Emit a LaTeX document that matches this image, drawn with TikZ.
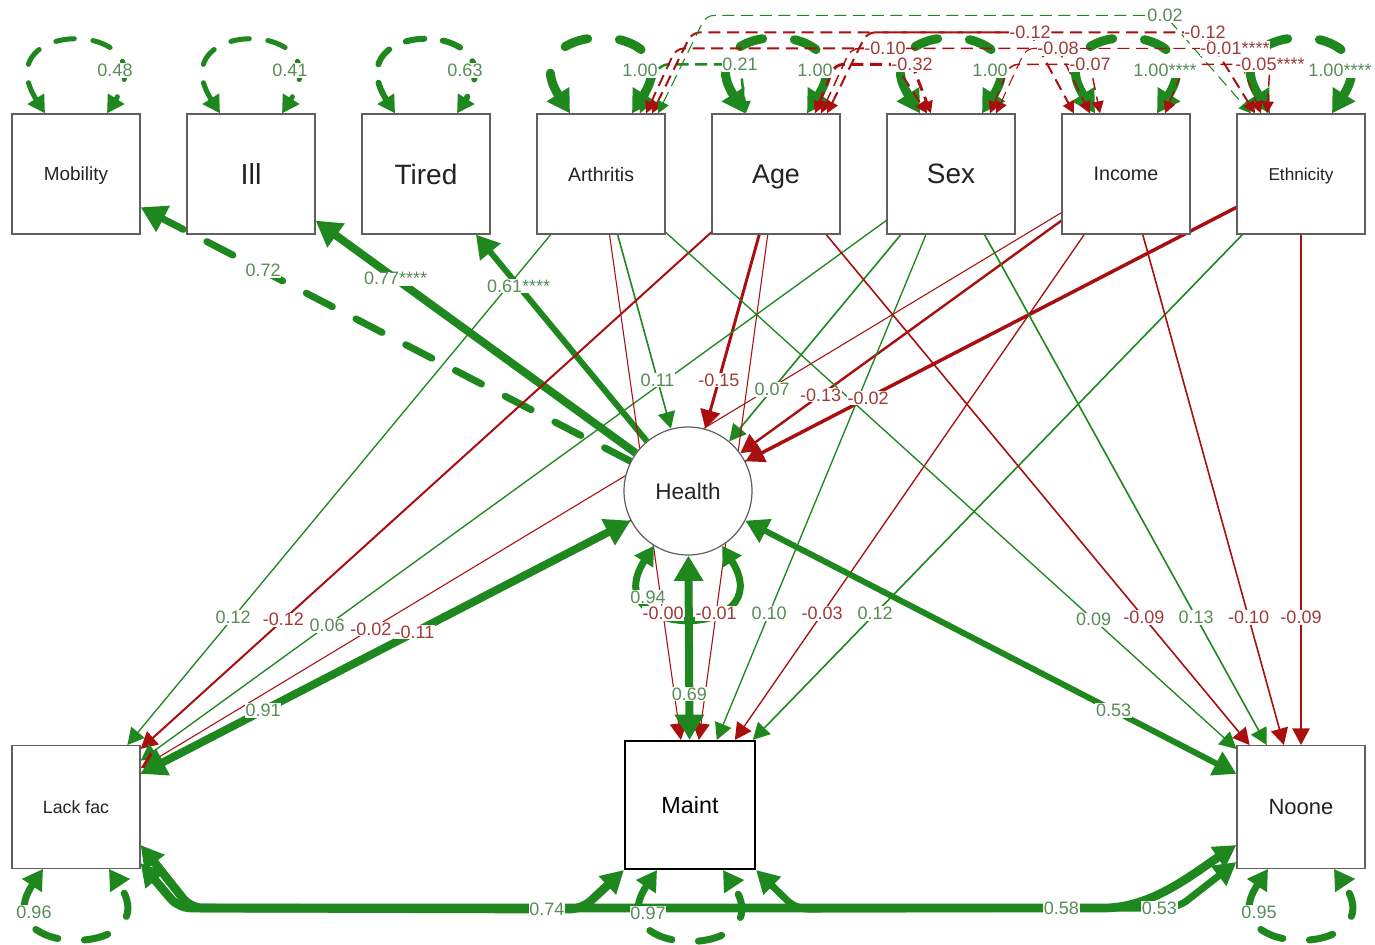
\documentclass[tikz,border=0pt]{standalone}
\usepackage{fontspec}
\setmainfont{Liberation Sans}
\usetikzlibrary{arrows.meta,calc}

\pgfdeclarelayer{edges}
\pgfsetlayers{edges,main}

\definecolor{egreen}{RGB}{30,135,30}
\definecolor{ered}{RGB}{170,15,15}
\definecolor{lgreen}{RGB}{88,140,88}
\definecolor{lred}{RGB}{160,58,58}
\definecolor{boxgray}{RGB}{95,95,95}
\definecolor{txtgray}{RGB}{35,35,35}

\newcommand\setfs[1]{\fontsize{#1}{#1}\selectfont}

% straight path drawn underneath the nodes, its coefficient label on top
\newcommand\semedge[6]{%
  \begin{pgfonlayer}{edges}\draw[#1] (#2) -- (#3);\end{pgfonlayer}%
  \path (#2) -- (#3) node[#4, pos=0.75] (#5) {#6};%
}

\tikzset{
  box/.style={draw=boxgray, line width=0.9pt, fill=white, minimum width=96pt,
    minimum height=90pt, inner sep=0pt, text=txtgray, text depth=0pt},
  bbox/.style={box, minimum height=92pt},
  lat/.style={circle, draw=boxgray, line width=0.9pt, fill=white,
    minimum size=96pt, inner sep=0pt, text=txtgray, text depth=0pt},
  lab/.style={fill=white, inner sep=0.6pt, font=\setfs{13.5pt}},
  gl/.style={lab, text=lgreen},
  rl/.style={lab, text=lred},
  pe/.style={draw=egreen},
  ne/.style={draw=ered},
  e1/.style={line width=1pt, >={Triangle[length=12.5pt,width=13pt]}, ->},
  e2/.style={line width=2.2pt, >={Triangle[length=14pt,width=15pt]}, ->},
  e3/.style={line width=4.5pt, >={Triangle[length=17pt,width=19pt]}, ->},
  e4/.style={line width=6pt, >={Triangle[length=19pt,width=21pt]}, ->},
  two3/.style={e3, <->},
  two4/.style={e4, <->},
  fixeddash/.style={line width=5.25pt, dash pattern=on 22pt off 20pt, line cap=round},
  lpA/.style={draw=egreen, line width=3.75pt, dash pattern=on 14pt off 14pt,
    line cap=round, >={Triangle[length=13pt,width=14pt]}, <->},
  lpB/.style={draw=egreen, line width=6.75pt, dash pattern=on 18pt off 24pt,
    line cap=round, >={Triangle[length=17pt,width=19pt]}, <->},
  lpC/.style={draw=egreen, line width=5.25pt, dash pattern=on 18pt off 20pt,
    line cap=round, >={Triangle[length=15pt,width=17pt]}, <->},
  lpD/.style={draw=egreen, line width=5.25pt, line cap=round,
    >={Triangle[length=14pt,width=16pt]}, <->},
  cv/.style={line width=#1, dash pattern=on 9pt off 5pt,
    >={Triangle[length=9pt,width=9pt]}, <->, rounded corners=6pt},
  bc/.style={draw=egreen, line width=#1, >={Triangle[length=17pt,width=18pt]},
    <->, rounded corners=9pt},
}

\begin{document}
\begin{tikzpicture}[x=0.75pt,y=-0.75pt]
\useasboundingbox (0,0) rectangle (1375,945);
\begin{pgfonlayer}{edges}
  \fill[white] (0,0) rectangle (1375,945);
\end{pgfonlayer}

% ---------------- variables ----------------
\node[box, font=\setfs{14.2pt}] (Mob)   at (76,174)   {Mobility};
\node[box, font=\setfs{21.7pt}] (Ill)   at (251,174)  {Ill};
\node[box, font=\setfs{21pt}]   (Tired) at (426,174)  {Tired};
\node[box, font=\setfs{14.6pt}] (Arth)  at (601,174)  {Arthritis};
\node[box, font=\setfs{20.2pt}] (Age)   at (776,174)  {Age};
\node[box, font=\setfs{21pt}]   (Sex)   at (951,174)  {Sex};
\node[box, font=\setfs{14.8pt}] (Inc)   at (1126,174) {Income};
\node[box, font=\setfs{12.9pt}] (Eth)   at (1301,174) {Ethnicity};
\node[lat, font=\setfs{16.9pt}] (Health) at (688,491) {Health};
\node[bbox, font=\setfs{13.3pt}] (Lack) at (76,807)   {Lack fac};
\node[box, draw=black, line width=1.6pt, minimum width=97.5pt, minimum height=96pt,
      text=black, font=\setfs{17.5pt}] (Maint) at (690,805) {Maint};
\node[bbox, font=\setfs{16.5pt}] (Noone) at (1301,807) {Noone};

% ---------------- variance labels ----------------
\node[gl] (vMob)   at ($(Mob.north)+(39,-43)$)   {0.48};
\node[gl] (vIll)   at ($(Ill.north)+(39,-43)$)   {0.41};
\node[gl] (vTired) at ($(Tired.north)+(39,-43)$) {0.63};
\node[gl] (vArth)  at ($(Arth.north)+(39,-43)$)  {1.00};
\node[gl] (vAge)   at ($(Age.north)+(39,-43)$)   {1.00};
\node[gl] (vSex)   at ($(Sex.north)+(39,-43)$)   {1.00};
\node[gl] (vInc)   at ($(Inc.north)+(39,-43)$)   {1.00****};
\node[gl] (vEth)   at ($(Eth.north)+(39,-43)$)   {1.00****};
\node[gl] (vLack)  at ($(Lack.south)+(-42,43)$)  {0.96};
\node[gl] (vMaint) at ($(Maint.south)+(-42,43)$) {0.97};
\node[gl] (vNoone) at ($(Noone.south)+(-42,43)$) {0.95};
\node[gl] (vHealth) at ($(Health.center)+(-40,106)$) {0.94};

% ---------------- covariance labels ----------------
\node[gl] (c1)  at ($(Age.north)+(-36,-49)$)  {0.21};
\node[rl] (c2)  at ($(Sex.north)+(-66,-65)$)  {-0.10};
\node[rl] (c3)  at ($(Inc.north)+(-96,-81)$)  {-0.12};
\node[gl] (c4)  at ($(Eth.north)+(-136,-98)$) {0.02};
\node[rl] (c5)  at ($(Sex.north)+(-39,-49)$)  {-0.32};
\node[rl] (c6)  at ($(Inc.north)+(-68,-65)$)  {-0.08};
\node[rl] (c7)  at ($(Eth.north)+(-96,-81)$)  {-0.12};
\node[rl] (c8)  at ($(Inc.north)+(-36,-49)$)  {-0.07};
\node[rl] (c9)  at ($(Eth.north)+(-66,-65)$)  {-0.01****};
\node[rl] (c10) at ($(Eth.north)+(-31,-49)$)  {-0.05****};
\node[gl] (k1)  at ($(Maint.south west)+(-77,39)$) {0.74};
\node[gl] (k2)  at ($(Noone.west)+(-175,101)$)     {0.58};
\node[gl] (k3)  at ($(Noone.west)+(-77,101)$)      {0.53};

% ---------------- loadings of Health ----------------
\semedge{pe, e4, fixeddash}{Health}{Mob}{gl}{lMob}{0.72}
\semedge{pe, e4}{Health}{Ill}{gl}{lIll}{0.77****}
\semedge{pe, e3}{Health}{Tired}{gl}{lTired}{0.61****}

% ---------------- covariates -> Health ----------------
\semedge{pe, e1, line width=1.2pt}{Arth}{Health}{gl}{hArth}{0.11}
\semedge{ne, e2}{Age}{Health}{rl}{hAge}{-0.15}
\semedge{pe, e1, line width=1.2pt}{Sex}{Health}{gl}{hSex}{0.07}
\semedge{ne, e2, line width=1.8pt}{Inc}{Health}{rl}{hInc}{-0.13}
\semedge{ne, e2, line width=2.6pt}{Eth}{Health}{rl}{hEth}{-0.02}

% ---------------- covariates -> Lack fac ----------------
\semedge{pe, e1}{Arth}{Lack}{gl}{fArth}{0.12}
\semedge{ne, e1, line width=1.5pt}{Age}{Lack}{rl}{fAge}{-0.12}
\semedge{pe, e1}{Sex}{Lack}{gl}{fSex}{0.06}
\semedge{ne, e1, line width=0.8pt}{Inc}{Lack}{rl}{fInc}{-0.02}
\semedge{ne, e1}{Eth}{Lack}{rl}{fEth}{-0.11}

% ---------------- covariates -> Maint ----------------
\semedge{ne, e1, line width=0.8pt}{Arth}{Maint}{rl}{mArth}{-0.00}
\semedge{ne, e1, line width=0.8pt}{Age}{Maint}{rl}{mAge}{-0.01}
\semedge{pe, e1}{Sex}{Maint}{gl}{mSex}{0.10}
\semedge{ne, e1}{Inc}{Maint}{rl}{mInc}{-0.03}
\semedge{pe, e1, line width=1.2pt}{Eth}{Maint}{gl}{mEth}{0.12}

% ---------------- covariates -> Noone ----------------
\semedge{pe, e1}{Arth}{Noone}{gl}{nArth}{0.09}
\semedge{ne, e1, line width=1.2pt}{Age}{Noone}{rl}{nAge}{-0.09}
\semedge{pe, e1, line width=1.2pt}{Sex}{Noone}{gl}{nSex}{0.13}
\semedge{ne, e1, line width=1.2pt}{Inc}{Noone}{rl}{nInc}{-0.10}
\semedge{ne, e1, line width=1.2pt}{Eth}{Noone}{rl}{nEth}{-0.09}

% ---------------- Health <-> outcomes ----------------
\semedge{pe, two4}{Health}{Lack}{gl}{oLack}{0.91}
\semedge{pe, two4}{Health}{Maint}{gl}{oMaint}{0.69}
\semedge{pe, two3}{Health}{Noone}{gl}{oNoone}{0.53}

\begin{pgfonlayer}{edges}
  % variances of the indicators
  \draw[lpA] ($(Mob.north)+(-31,0)$) .. controls +(-60,-95) and +(60,-95) .. ($(Mob.north)+(31,0)$);
  \draw[lpA] ($(Ill.north)+(-31,0)$) .. controls +(-60,-95) and +(60,-95) .. ($(Ill.north)+(31,0)$);
  \draw[lpA, line width=4.5pt] ($(Tired.north)+(-31,0)$) .. controls +(-60,-95) and +(60,-95) .. ($(Tired.north)+(31,0)$);
  % variances of the covariates
  \draw[lpB] ($(Arth.north)+(-31,0)$) .. controls +(-60,-95) and +(60,-95) .. ($(Arth.north)+(31,0)$);
  \draw[lpB] ($(Age.north)+(-31,0)$) .. controls +(-60,-95) and +(60,-95) .. ($(Age.north)+(31,0)$);
  \draw[lpB] ($(Sex.north)+(-31,0)$) .. controls +(-60,-95) and +(60,-95) .. ($(Sex.north)+(31,0)$);
  \draw[lpB] ($(Inc.north)+(-31,0)$) .. controls +(-60,-95) and +(60,-95) .. ($(Inc.north)+(31,0)$);
  \draw[lpB] ($(Eth.north)+(-31,0)$) .. controls +(-60,-95) and +(60,-95) .. ($(Eth.north)+(31,0)$);
  % residual variances
  \draw[lpC] ($(Lack.south)+(-33,0)$) .. controls +(-60,90) and +(60,90) .. ($(Lack.south)+(33,0)$);
  \draw[lpC] ($(Maint.south)+(-33,0)$) .. controls +(-60,90) and +(60,90) .. ($(Maint.south)+(33,0)$);
  \draw[lpC] ($(Noone.south)+(-33,0)$) .. controls +(-60,90) and +(60,90) .. ($(Noone.south)+(33,0)$);
  \draw[lpD] (Health.238) .. controls +(-60,95) and +(60,95) .. (Health.302);

  % covariances among the covariates
  \draw[cv=1.9pt, draw=egreen] ($(Arth.north)+(39,0)$) -- ++(20,-49) -- (c1.center) -- ($(Age.north)+(-30,0)$);
  \draw[cv=1.4pt, draw=ered] ($(Arth.north)+(45,0)$) -- ++(30,-65) -- (c2.center) -- ($(Sex.north)+(-24,0)$);
  \draw[cv=1.5pt, draw=ered] ($(Arth.north)+(51,0)$) -- ++(40,-81) -- (c3.center) -- ($(Inc.north)+(-52,0)$);
  \draw[cv=0.8pt, draw=egreen] ($(Arth.north)+(57,0)$) -- ++(48,-98) -- (c4.center) -- ($(Eth.north)+(-50,0)$);
  \draw[cv=2.2pt, draw=ered] ($(Age.north)+(39,0)$) -- ++(20,-49) -- (c5.center) -- ($(Sex.north)+(-20,0)$);
  \draw[cv=1.1pt, draw=ered] ($(Age.north)+(45,0)$) -- ++(30,-65) -- (c6.center) -- ($(Inc.north)+(-36,0)$);
  \draw[cv=1.5pt, draw=ered] ($(Age.north)+(51,0)$) -- ++(40,-81) -- (c7.center) -- ($(Eth.north)+(-46,0)$);
  \draw[cv=1.1pt, draw=ered] ($(Sex.north)+(39,0)$) -- ++(20,-49) -- (c8.center) -- ($(Inc.north)+(-26,0)$);
  \draw[cv=0.8pt, draw=ered] ($(Sex.north)+(45,0)$) -- ++(30,-65) -- (c9.center) -- ($(Eth.north)+(-40,0)$);
  \draw[cv=1.1pt, draw=ered] ($(Inc.north)+(39,0)$) -- ++(20,-49) -- (c10.center) -- ($(Eth.north)+(-34,0)$);

  % covariances among the outcomes
  \draw[bc=6.5pt] ($(Lack.east)+(0,38)$) -- ++(50,63) -- (k1.center) -- ++(35,0) -- (Maint.south west);
  \draw[bc=6.5pt] ($(Lack.east)+(0,56)$) -- ++(38,45) -- (k2.center) -- ++(30,0)
        .. controls +(60,0) and +(-45,30) .. ($(Noone.west)+(0,38)$);
  \draw[bc=5.25pt] (Maint.south east) -- ++(40,39) -- (k3.center) -- ++(18,0) -- ($(Noone.west)+(0,55)$);
\end{pgfonlayer}
\end{tikzpicture}
\end{document}
